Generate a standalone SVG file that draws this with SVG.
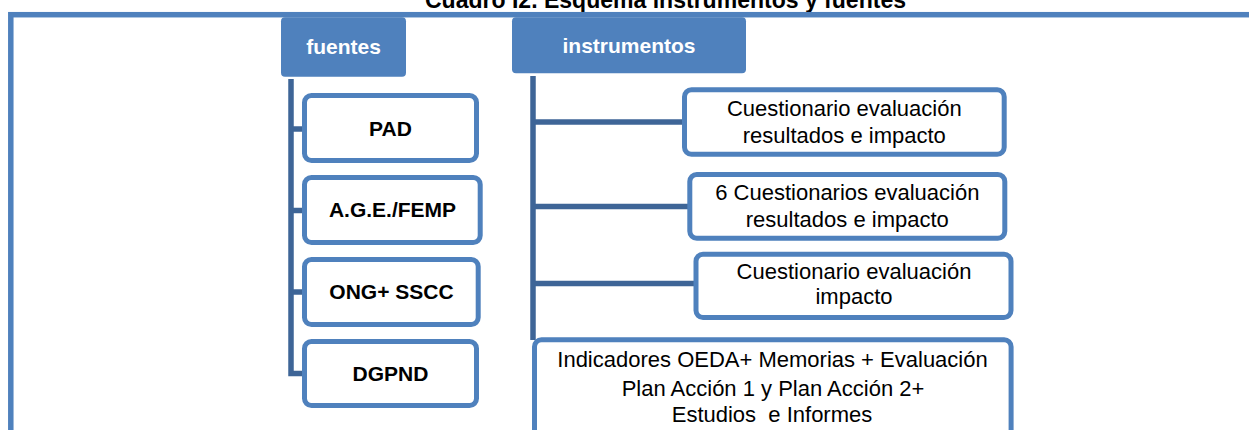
<svg xmlns="http://www.w3.org/2000/svg" width="1249" height="430" viewBox="0 0 1249 430">
<style>
.bg{fill:#ffffff}
.frame{fill:none;stroke:#4F81BD;stroke-width:5.5}
.hdr{fill:#4F81BD}
.hdrt{font-family:"Liberation Sans",Arial,sans-serif;font-weight:bold;font-size:21px;fill:#ffffff;text-anchor:middle}
.box{fill:#ffffff;stroke:#4F81BD;stroke-width:5}
.bt{font-family:"Liberation Sans",Arial,sans-serif;font-weight:bold;font-size:21px;fill:#000000;text-anchor:middle}
.rt{font-family:"Liberation Sans",Arial,sans-serif;font-size:22px;fill:#000000;text-anchor:middle}
.con{fill:none;stroke:#3E6597;stroke-width:5.5;stroke-linecap:butt;stroke-linejoin:miter}
.title{font-family:"Liberation Sans",Arial,sans-serif;font-weight:bold;font-size:23px;fill:#000000}
</style>
<rect class="bg" x="0" y="0" width="1249" height="430"/>
<text class="title" x="425" y="7.5" textLength="481" lengthAdjust="spacingAndGlyphs">Cuadro I2. Esquema instrumentos y fuentes</text>
<rect class="frame" x="10.8" y="14.7" width="1300" height="500"/>
<g id="connectors">
<path class="con" d="M291 79 V373.5 H304"/>
<path class="con" d="M291 129 H304"/>
<path class="con" d="M291 210.5 H304"/>
<path class="con" d="M291 292 H304"/>
<path class="con" d="M533 76 V340"/>
<path class="con" d="M533 122 H684"/>
<path class="con" d="M533 206.5 H689"/>
<path class="con" d="M533 283.5 H695"/>
</g>
<g id="fuentes">
<rect class="hdr" x="281" y="17.3" width="125" height="59.4" rx="4"/>
<text class="hdrt" x="343.5" y="54">fuentes</text>
</g>
<g id="instrumentos">
<rect class="hdr" x="512" y="17.3" width="234" height="56" rx="4"/>
<text class="hdrt" x="629" y="52.5">instrumentos</text>
</g>
<g id="pad">
<rect class="box" x="304.5" y="95.5" width="172" height="65" rx="7"/>
<text class="bt" x="390.5" y="136">PAD</text>
</g>
<g id="age">
<rect class="box" x="304.5" y="177.5" width="175.7" height="65" rx="7"/>
<text class="bt" x="392.5" y="217.3">A.G.E./FEMP</text>
</g>
<g id="ong">
<rect class="box" x="304.5" y="259.5" width="173.7" height="65" rx="7"/>
<text class="bt" x="391.5" y="299">ONG+ SSCC</text>
</g>
<g id="dgpnd">
<rect class="box" x="304.5" y="341.5" width="172" height="64" rx="7"/>
<text class="bt" x="390.5" y="380.7">DGPND</text>
</g>
<g id="inst1">
<rect class="box" x="684.5" y="89.8" width="319.7" height="64.4" rx="7"/>
<text class="rt" x="844.3" y="115.7">Cuestionario evaluación</text>
<text class="rt" x="844.3" y="142.7">resultados e impacto</text>
</g>
<g id="inst2">
<rect class="box" x="689.8" y="174.5" width="315" height="63.7" rx="7"/>
<text class="rt" x="847.3" y="200">6 Cuestionarios evaluación</text>
<text class="rt" x="847.3" y="226.7">resultados e impacto</text>
</g>
<g id="inst3">
<rect class="box" x="696" y="254.2" width="315" height="63.3" rx="7"/>
<text class="rt" x="854" y="279.3">Cuestionario evaluación</text>
<text class="rt" x="854" y="304">impacto</text>
</g>
<g id="inst4">
<rect class="box" x="534.5" y="339.8" width="476.6" height="200" rx="7"/>
<text class="rt" x="772.5" y="367.3">Indicadores OEDA+ Memorias + Evaluación</text>
<text class="rt" x="773" y="395.5">Plan Acción 1 y Plan Acción 2+</text>
<text class="rt" x="772" y="421.7" xml:space="preserve">Estudios  e Informes</text>
</g>
</svg>
